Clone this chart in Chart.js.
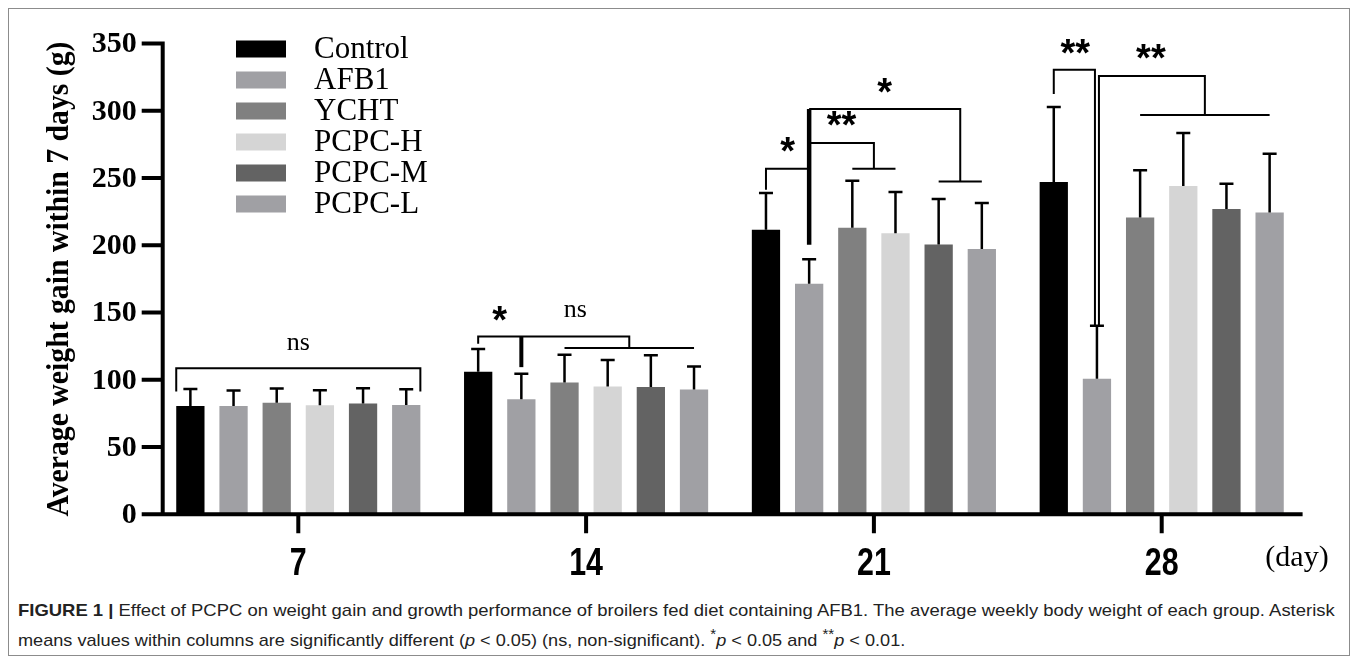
<!DOCTYPE html>
<html>
<head>
<meta charset="utf-8">
<script src="https://cdn.jsdelivr.net/npm/chart.js@4.4.1/dist/chart.umd.min.js"></script>
<style>
  body { margin: 0; background: #fff; }
  #frame { position: absolute; left: 8px; top: 8px; width: 1340px; height: 646px; border: 1px solid #8c8c8c; }
  #wrap { position: absolute; left: 0; top: 0; width: 1357px; height: 600px; }
  .cap { position: absolute; left: 18px; font-family: "Liberation Sans", Arial, sans-serif; font-size: 17px;
         color: #222; white-space: nowrap; transform-origin: 0 50%; line-height: 20px; z-index: 2; }
</style>
</head>
<body>
<div id="frame"></div>
<div id="wrap"><canvas id="myChart" width="1357" height="600"></canvas></div>
<div class="cap" id="cap1" style="top:601px"><b>FIGURE 1 |</b> Effect of PCPC on weight gain and growth performance of broilers fed diet containing AFB1. The average weekly body weight of each group. Asterisk</div>
<div class="cap" id="cap2" style="top:631px">means values within columns are significantly different (<i>p</i> &lt; 0.05) (ns, non-significant). <sup style="line-height:0">*</sup><i>p</i> &lt; 0.05 and <sup style="line-height:0">**</sup><i>p</i> &lt; 0.01.</div>
<script>
// data
const days = ['7', '14', '21', '28'];
const groups = ['Control', 'AFB1', 'YCHT', 'PCPC-H', 'PCPC-M', 'PCPC-L'];
const controlMean = [80.6, 105.9, 211.5, 247];
const controlSD   = [12.6, 16.9, 27.3, 55.8];
const afb1Mean    = [80.6, 85.6, 171.4, 100.7];
const afb1SD      = [11.4, 18.8, 18.3, 39.4];
const ychtMean    = [83, 97.9, 213, 220.7];
const ychtSD      = [10.5, 20.8, 35, 35];
const pcpcHMean   = [81, 95, 209, 244];
const pcpcHSD     = [11.2, 19.8, 30.6, 39.5];
const pcpcMMean   = [82.3, 94.7, 200.6, 226.9];
const pcpcMSD     = [11.4, 23.6, 33.8, 18.9];
const pcpcLMean   = [81.3, 92.7, 197.2, 224.4];
const pcpcLSD     = [11.7, 17.1, 34.2, 43.6];
const yTicks = [0, 50, 100, 150, 200, 250, 300, 350];

const colors = ['#000000', '#a0a0a4', '#808080', '#d5d5d5', '#636363', '#a0a0a4'];
const means = [controlMean, afb1Mean, ychtMean, pcpcHMean, pcpcMMean, pcpcLMean];
const sds = [controlSD, afb1SD, ychtSD, pcpcHSD, pcpcMSD, pcpcLSD];

const data = {
  labels: days,
  datasets: groups.map((g, i) => ({
    label: g,
    data: means[i],
    sd: sds[i],
    backgroundColor: colors[i],
    borderWidth: 0,
    categoryPercentage: 0.9,
    barPercentage: 0.655
  }))
};

// stretched text helper
function stext(ctx, s, x, y, font, align, sx) {
  ctx.save();
  ctx.font = font;
  ctx.translate(x, y);
  ctx.scale(sx, 1);
  ctx.textAlign = align;
  ctx.textBaseline = 'middle';
  ctx.fillText(s, 0, 0);
  ctx.restore();
}

// error bars
const errorBars = {
  id: 'errorBars',
  afterDatasetsDraw(chart) {
    const { ctx, scales: { y } } = chart;
    ctx.save();
    ctx.strokeStyle = '#000';
    ctx.lineWidth = 2.5;
    chart.data.datasets.forEach((ds, i) => {
      chart.getDatasetMeta(i).data.forEach((bar, j) => {
        const top = y.getPixelForValue(ds.data[j] + ds.sd[j]);
        const base = y.getPixelForValue(ds.data[j]);
        ctx.beginPath();
        ctx.moveTo(bar.x, base);
        ctx.lineTo(bar.x, top);
        ctx.moveTo(bar.x - 7, top);
        ctx.lineTo(bar.x + 7, top);
        ctx.stroke();
      });
    });
    ctx.restore();
  }
};

// significance brackets
const notes = {
  id: 'notes',
  afterDatasetsDraw(chart) {
    const { ctx, scales: { y } } = chart;
    const cx = (g, i) => chart.getDatasetMeta(i).data[g].x;
    const bw = chart.getDatasetMeta(0).data[0].width;
    const py = v => y.getPixelForValue(v);
    const path = (w, pts) => {
      ctx.lineWidth = w;
      ctx.beginPath();
      pts.forEach(([px, v], k) => k ? ctx.lineTo(px, py(v)) : ctx.moveTo(px, py(v)));
      ctx.stroke();
    };
    const star = (px, v, n) => {
      ctx.font = 'bold 38px "Liberation Sans"';
      ctx.textAlign = 'center';
      ctx.textBaseline = 'alphabetic';
      ctx.fillText('*'.repeat(n), px, py(v) + 21);
    };
    const ns = (px, v) => {
      ctx.font = '26px "Liberation Serif"';
      ctx.textAlign = 'center';
      ctx.textBaseline = 'middle';
      ctx.fillText('ns', px, py(v));
    };
    ctx.save();
    ctx.strokeStyle = '#000';
    ctx.fillStyle = '#000';
    ctx.lineCap = 'butt';

    // day 7
    const l0 = cx(0, 0) - bw / 2, r0 = cx(0, 5) + bw / 2;
    path(2, [[l0, 91.2], [l0, 108.6], [r0, 108.6], [r0, 91.2]]);
    ns((l0 + r0) / 2, 127.5);

    // day 14
    const m14 = (cx(1, 2) + cx(1, 5)) / 2;
    path(2, [[cx(1, 0), 126.7], [cx(1, 0), 132.1], [m14, 132.1], [m14, 123.7]]);
    path(4, [[cx(1, 1), 132.1], [cx(1, 1), 109.4]]);
    path(2, [[cx(1, 2), 123.7], [cx(1, 5), 123.7]]);
    star((cx(1, 0) + cx(1, 1)) / 2, 150.7, 1);
    ns((cx(1, 1) + m14) / 2, 151.5);

    // day 21
    const a21 = cx(2, 1);
    const m23 = (cx(2, 2) + cx(2, 3)) / 2, m45 = (cx(2, 4) + cx(2, 5)) / 2;
    path(2, [[cx(2, 0), 241.3], [cx(2, 0), 256.9], [a21, 256.9]]);
    path(4.5, [[a21, 301.3], [a21, 200.4]]);
    path(2, [[a21, 276.1], [m23, 276.1], [m23, 256.9]]);
    path(2, [[cx(2, 2), 256.9], [cx(2, 3), 256.9]]);
    path(2, [[a21, 301.3], [m45, 301.3], [m45, 247.5]]);
    path(2, [[cx(2, 4), 247.5], [cx(2, 5), 247.5]]);
    star((cx(2, 0) + a21) / 2, 276.3, 1);
    star((a21 + m23) / 2, 295, 2);
    star((a21 + m45) / 2, 320.2, 1);

    // day 28
    const a28 = cx(3, 1);
    const m25 = (cx(3, 2) + cx(3, 5)) / 2;
    path(2, [[cx(3, 0), 312.5], [cx(3, 0), 330.4], [a28 - 2, 330.4], [a28 - 2, 140.8]]);
    path(2, [[a28 + 2, 140.8], [a28 + 2, 325.9], [m25, 325.9], [m25, 296.9]]);
    path(2, [[cx(3, 2), 296.9], [cx(3, 5), 296.9]]);
    star((cx(3, 0) + a28) / 2, 349.2, 2);
    star((a28 + m25) / 2, 345.4, 2);
    ctx.restore();
  }
};

// axes, tick labels, titles and legend
const frameDeco = {
  id: 'frameDeco',
  afterDraw(chart) {
    const { ctx, chartArea: { left, right }, scales: { x, y } } = chart;
    const ax = left + 8.3;
    const y0 = y.getPixelForValue(0);
    ctx.save();
    ctx.strokeStyle = '#000';
    ctx.fillStyle = '#000';
    ctx.lineWidth = 4;
    ctx.beginPath();
    ctx.moveTo(ax, y.getPixelForValue(350) - 2);
    ctx.lineTo(ax, y0);
    ctx.moveTo(ax - 2, y0);
    ctx.lineTo(right - 3, y0);
    yTicks.forEach(t => {
      ctx.moveTo(ax - 21, y.getPixelForValue(t));
      ctx.lineTo(ax, y.getPixelForValue(t));
    });
    days.forEach((d, i) => {
      ctx.moveTo(x.getPixelForValue(i), y0);
      ctx.lineTo(x.getPixelForValue(i), y0 + 19);
    });
    ctx.stroke();

    yTicks.forEach(t => {
      stext(ctx, String(t), ax - 26, y.getPixelForValue(t) + 1, 'bold 30px "Liberation Serif"', 'right', 1);
    });
    days.forEach((d, i) => {
      stext(ctx, d, x.getPixelForValue(i), y0 + 50, 'bold 38px "Liberation Sans"', 'center', 0.8);
    });
    stext(ctx, '(day)', 1297, y0 + 44, '30px "Liberation Serif"', 'center', 1);

    // y title
    ctx.save();
    ctx.translate(60, 279);
    ctx.rotate(-Math.PI / 2);
    ctx.font = 'bold 32px "Liberation Serif"';
    const title = 'Average weight gain within 7 days (g)';
    const sx = 475 / ctx.measureText(title).width;
    ctx.scale(sx, 1);
    ctx.textAlign = 'center';
    ctx.textBaseline = 'middle';
    ctx.fillText(title, 0, 0);
    ctx.restore();

    // legend
    groups.forEach((g, i) => {
      const cy = 49 + i * 31;
      ctx.fillStyle = colors[i];
      ctx.fillRect(236, cy - 8.5, 50, 17);
      ctx.fillStyle = '#000';
      stext(ctx, g, 314, cy + 1, '31px "Liberation Serif"', 'left', 1);
    });
    ctx.restore();
  }
};

const config = {
  type: 'bar',
  data,
  options: {
    responsive: false,
    animation: false,
    devicePixelRatio: 1,
    layout: { padding: { left: 154.4, right: 51.4, top: 43.5, bottom: 85.7 } },
    plugins: {
      legend: { display: false },
      tooltip: { enabled: false }
    },
    scales: {
      x: { display: false },
      y: { display: false, min: 0, max: 350, ticks: { stepSize: 50 } }
    }
  },
  plugins: [errorBars, notes, frameDeco]
};

const myChart = new Chart(document.getElementById('myChart'), config);

// fit caption lines to their widths in the figure
function fitCap(id, w) {
  const el = document.getElementById(id);
  el.style.transform = 'scaleX(' + (w / el.scrollWidth) + ')';
}
fitCap('cap1', 1317);
fitCap('cap2', 887);
</script>
</body>
</html>
